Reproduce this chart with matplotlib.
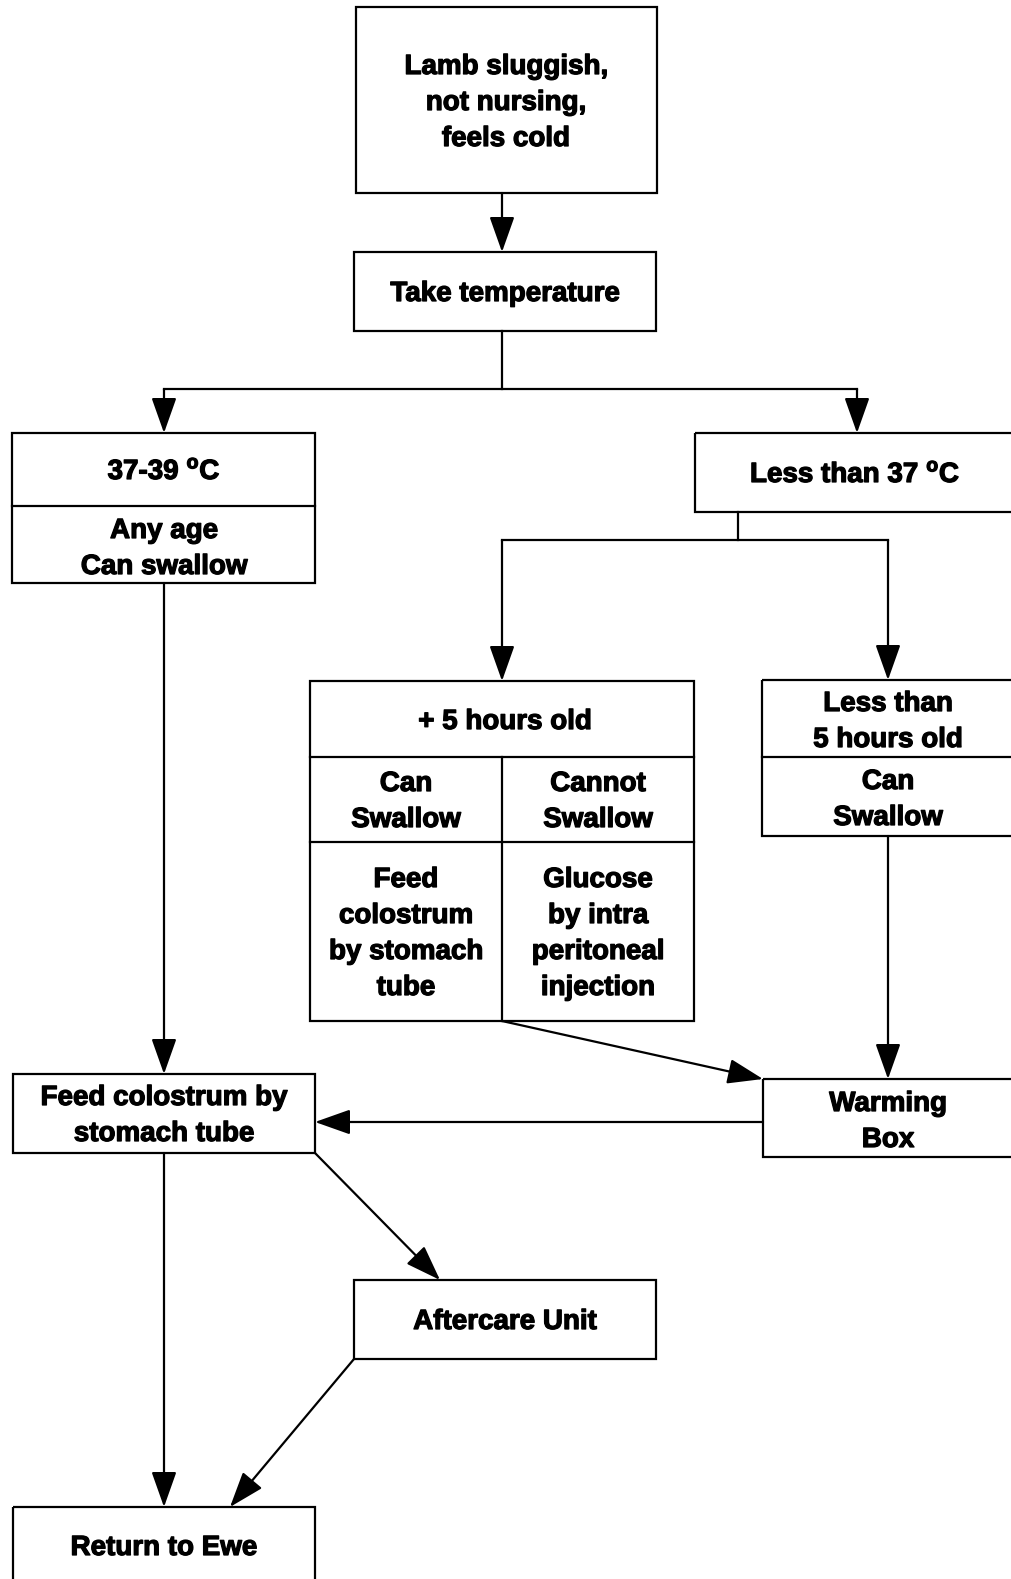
import matplotlib
matplotlib.use("Agg")
import matplotlib.pyplot as plt
import matplotlib.patheffects as pe
from matplotlib.patches import Rectangle

plt.rcParams["font.family"] = ["Liberation Sans", "DejaVu Sans"]
plt.rcParams["mathtext.fontset"] = "custom"
plt.rcParams["mathtext.bf"] = "Liberation Sans:bold"
plt.rcParams["mathtext.rm"] = "Liberation Sans:bold"

# Node texts
start_text = "Lamb sluggish,\nnot nursing,\nfeels cold"
temp_text = "Take temperature"
normal_cells = ["37-39 $^\\mathbf{o}$C", "Any age\nCan swallow"]
cold_text = "Less than 37 $^\\mathbf{o}$C"
old_header = "+ 5 hours old"
old_left = ["Can\nSwallow", "Feed\ncolostrum\nby stomach\ntube"]
old_right = ["Cannot\nSwallow", "Glucose\nby intra\nperitoneal\ninjection"]
young_cells = ["Less than\n5 hours old", "Can\nSwallow"]
feed_text = "Feed colostrum by\nstomach tube"
warm_text = "Warming\nBox"
after_text = "Aftercare Unit"
ewe_text = "Return to Ewe"

# canvas in pixel units
W, H = 1011, 1579
LW = 1.6
FS = 20

fig = plt.figure(figsize=(W / 100, H / 100), dpi=100)
ax = fig.add_axes([0, 0, 1, 1])
ax.set_xlim(0, W)
ax.set_ylim(H, 0)
ax.axis("off")

thick = [pe.withStroke(linewidth=0.9, foreground="black")]


def box(x0, x1, y0, y1):
    ax.add_patch(Rectangle((x0, y0), x1 - x0, y1 - y0, fill=False,
                           lw=LW, ec="black", clip_on=True))


def hline(x0, x1, y):
    ax.plot([x0, x1], [y, y], color="black", lw=LW, solid_capstyle="projecting")


def vline(x, y0, y1):
    ax.plot([x, x], [y0, y1], color="black", lw=LW, solid_capstyle="projecting")


def label(x, y, s):
    ax.text(x, y, s, ha="center", va="center", fontsize=FS,
            fontweight="bold", linespacing=1.5, path_effects=thick)


def arrow(p0, p1):
    ax.annotate("", xy=p1, xytext=p0,
                arrowprops=dict(arrowstyle="-|>,head_length=2.2,head_width=0.78",
                                mutation_scale=10, color="black", lw=LW,
                                shrinkA=0, shrinkB=0))


def line(p0, p1):
    ax.plot([p0[0], p1[0]], [p0[1], p1[1]], color="black", lw=LW)


# start box
box(356, 657, 7, 193)
label(506, 103, start_text)
arrow((502, 193), (502, 252))

# take temperature
box(354, 656, 252, 331)
label(505, 294, temp_text)
line((502, 331), (502, 389))
hline(164, 857, 389)
arrow((164, 389), (164, 433))
arrow((857, 389), (857, 433))

# 37-39 box
box(12, 315, 433, 583)
hline(12, 315, 506)
label(164, 472, normal_cells[0])
label(164, 549, normal_cells[1])
arrow((164, 583), (164, 1074))

# less than 37 box
box(695, 1015, 433, 512)
label(855, 475, cold_text)
line((738, 512), (738, 540))
hline(502, 888, 540)
arrow((502, 540), (502, 681))
arrow((888, 540), (888, 680))

# +5 hours old table
box(310, 694, 681, 1021)
hline(310, 694, 757)
hline(310, 694, 842)
vline(502, 757, 1021)
label(505, 722, old_header)
label(406, 802, old_left[0])
label(406, 934, old_left[1])
label(598, 802, old_right[0])
label(598, 934, old_right[1])
arrow((502, 1021), (763, 1079))

# less than 5 hours box
box(762, 1015, 680, 836)
hline(762, 1015, 757)
label(888, 722, young_cells[0])
label(888, 800, young_cells[1])
arrow((888, 836), (888, 1079))

# warming box
box(763, 1015, 1079, 1157)
label(888, 1122, warm_text)
arrow((763, 1122), (315, 1122))

# feed colostrum box
box(13, 315, 1074, 1153)
label(164, 1116, feed_text)
arrow((315, 1153), (440, 1280))
arrow((164, 1153), (164, 1507))

# aftercare
box(354, 656, 1280, 1359)
label(505, 1322, after_text)
arrow((354, 1359), (230, 1507))

# return to ewe
box(13, 315, 1507, 1600)
label(164, 1548, ewe_text)

fig.savefig("out.png", dpi=100)
